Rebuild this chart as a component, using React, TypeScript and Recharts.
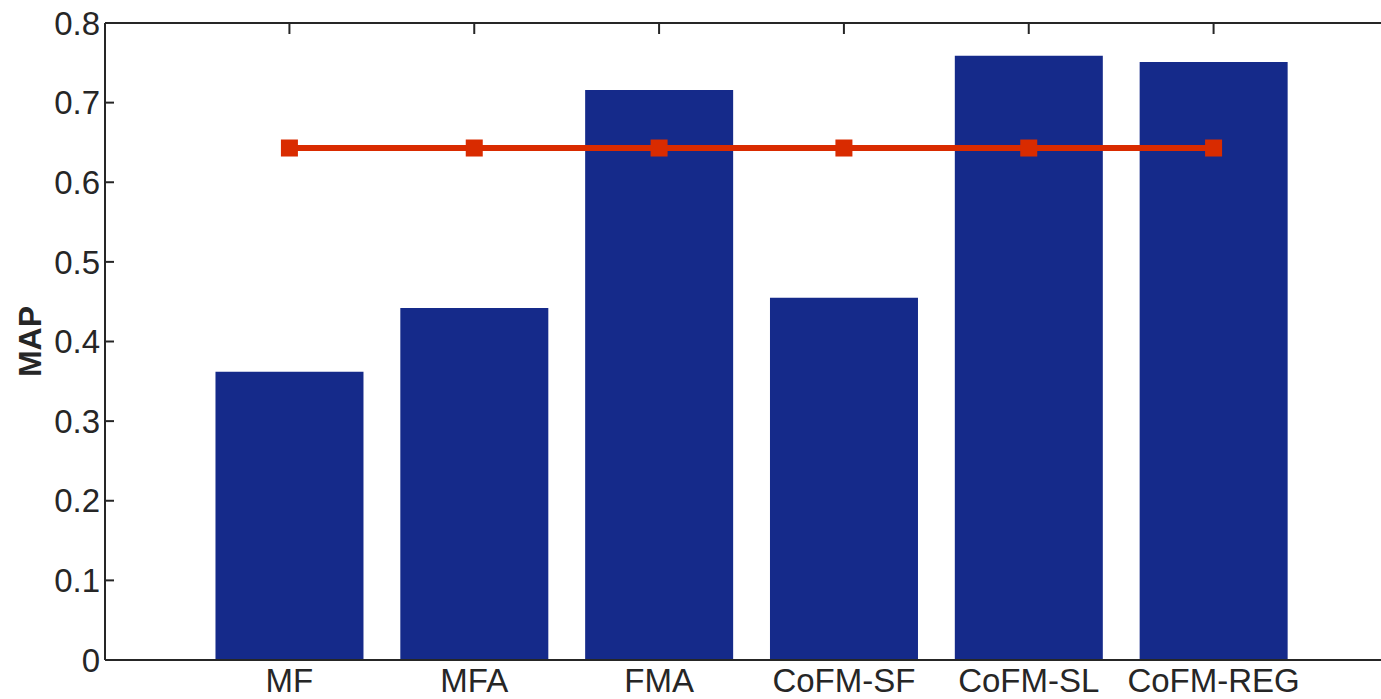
import { ComposedChart, Bar, Line, XAxis, YAxis, Label } from 'recharts';

const methods = ['MF', 'MFA', 'FMA', 'CoFM-SF', 'CoFM-SL', 'CoFM-REG'];
const mapValues = [0.362, 0.442, 0.716, 0.455, 0.759, 0.751];
const baselineValues = [0.643, 0.643, 0.643, 0.643, 0.643, 0.643];
const yTicks = [0, 0.1, 0.2, 0.3, 0.4, 0.5, 0.6, 0.7, 0.8];

const data = methods.map((m, i) => ({ method: m, map: mapValues[i], baseline: baselineValues[i] }));

const ink = '#262626';
const font = '"Liberation Sans", Arial, sans-serif';

const SquareDot = (props: any) => {
  const { cx, cy, index } = props;
  return <rect key={index} x={cx - 8.5} y={cy - 8.5} width={17} height={17} fill="#d92b00" />;
};

export default function App() {
  return (
    <div
      style={{
        position: 'fixed',
        top: 0,
        left: 0,
        width: 1381,
        height: 699,
        overflow: 'hidden',
        background: '#fff',
      }}
    >
      <ComposedChart
        width={1398}
        height={699}
        data={data}
        margin={{ top: 22, right: 0, bottom: 0, left: 0 }}
        barCategoryGap="10%"
      >
        <XAxis
          dataKey="method"
          xAxisId="bottom"
          padding={{ left: 92, right: 92 }}
          height={39}
          axisLine={{ stroke: ink, strokeWidth: 2 }}
          tickLine={false}
          tickSize={0}
          tickMargin={9}
          tick={{ fontSize: 33, fill: ink, fontFamily: font }}
          interval={0}
        />
        <XAxis
          dataKey="method"
          xAxisId="top"
          orientation="top"
          padding={{ left: 92, right: 92 }}
          height={1}
          axisLine={{ stroke: ink, strokeWidth: 2 }}
          tickLine={{ stroke: ink, strokeWidth: 2 }}
          tickSize={-11}
          tickFormatter={() => ''}
          interval={0}
        />
        <YAxis
          domain={[0, 0.8]}
          ticks={yTicks}
          width={105}
          axisLine={{ stroke: ink, strokeWidth: 2 }}
          tickLine={{ stroke: ink, strokeWidth: 2 }}
          tickSize={-9}
          tickMargin={14}
          tick={{ fontSize: 33, fill: ink, fontFamily: font }}
          interval={0}
        >
          <Label
            value="MAP"
            angle={-90}
            position="insideLeft"
            offset={30}
            style={{ fontSize: 32, fontWeight: 'bold', fill: ink, fontFamily: font, textAnchor: 'middle' }}
          />
        </YAxis>
        <Bar dataKey="map" xAxisId="bottom" fill="#152a8a" isAnimationActive={false} />
        <Line
          dataKey="baseline"
          xAxisId="bottom"
          stroke="#d92b00"
          strokeWidth={6}
          dot={<SquareDot />}
          activeDot={false}
          isAnimationActive={false}
        />
      </ComposedChart>
    </div>
  );
}
